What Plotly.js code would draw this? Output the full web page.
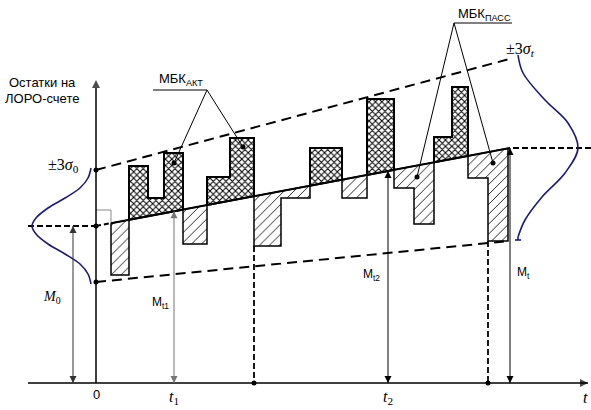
<!DOCTYPE html>
<html><head><meta charset="utf-8">
<script src="https://cdn.plot.ly/plotly-3.0.1.min.js"></script>
<style>html,body{margin:0;padding:0;background:#fff}</style>
</head><body><div id="chart" style="width:591px;height:410px"></div>
<script>
// ---- data (t = time from the balance axis, M = balance on the LORO account) ----
const trendT = [0, 414];          // mean balance line: M0 at t=0, Mt at t=T
const trendM = [157, 235];
const upperT = [0, 417];          // +3 sigma band
const upperM = [213, 325];
const lowerT = [0, 413];          // -3 sigma band
const lowerM = [101, 142];

// active MBK (cross-hatched, above the trend): step edges and step tops per block
const activeEdges  = [[33, 52, 68, 87], [111, 134, 158], [214, 246], [271, 298], [338, 356, 372]];
const activeLevels = [[217, 185, 230], [206, 245], [235], [284], [246, 296]];
// passive MBK (diagonal hatch, below the trend): step edges and step bottoms per block
const passiveEdges  = [[15, 33], [87, 111], [158, 185, 214], [246, 271], [298, 318, 338], [372, 392, 412]];
const passiveLevels = [[108], [139], [137, 185], [185], [195, 159], [205, 142]];
const openBoxEdge = [0, 15];      // small open box at the start
const openBoxTop = 173;

// bell curves
const bell0T = [-5, -8, -16, -31, -48, -60, -64, -60, -48, -31, -16, -8, -5];
const bell0M = [215, 205, 195, 185, 175, 165, 157, 149, 139, 129, 119, 109, 99];
const bellTT = [422, 427, 449, 472, 482, 469, 446, 429, 422];
const bellTM = [328, 310, 283, 260, 235, 210, 186, 163, 146];

// marked moments on the time axis
const tickT = [0, 78, 292, 489];
const tickText = ['0', '<i>t</i><sub>1</sub>', '<i>t</i><sub>2</sub>', '<i>t</i>'];
const mArrowT = [78, 292, 414];
const mArrowText = ['M<sub>t1</sub>', 'M<sub>t2</sub>', 'M<sub>t</sub>'];
const dashedT = [158, 392];
const dashedTop = [137, 142];

// leader dots
const actDotT = [78, 147], actDotM = [220, 236];
const pasDotT = [321, 397], pasDotM = [206, 220];

// ---- helpers ----
function trend(t) {
  return trendM[0] + (trendM[1] - trendM[0]) * (t - trendT[0]) / (trendT[1] - trendT[0]);
}
function blockPoly(edges, levels) {
  const xs = [edges[0]], ys = [trend(edges[0])];
  for (let i = 0; i < levels.length; i++) {
    xs.push(edges[i], edges[i + 1]);
    ys.push(levels[i], levels[i]);
  }
  const last = edges[edges.length - 1];
  xs.push(last, edges[0]);
  ys.push(trend(last), trend(edges[0]));
  return {x: xs, y: ys};
}
const traces = [];
function line(x, y, color, width, dash, extra) {
  traces.push(Object.assign({type: 'scatter', mode: 'lines', x: x, y: y,
    line: {color: color, width: width, dash: dash || 'solid'}, hoverinfo: 'skip'}, extra || {}));
}
// arrow line with arrow-shaped markers whose tips sit on the end points
function arrowLine(x, y, symbols, color, width, msize) {
  traces.push({type: 'scatter', mode: 'lines+markers', x: x, y: y, hoverinfo: 'skip',
    line: {color: color, width: width},
    marker: {symbol: symbols, size: msize, color: color, line: {width: 0}}});
}

// passive blocks
passiveEdges.forEach((e, i) => {
  const p = blockPoly(e, passiveLevels[i]);
  traces.push({type: 'scatter', mode: 'lines', x: p.x, y: p.y, fill: 'toself',
    fillcolor: '#fff',
    fillpattern: {shape: '/', size: 7, solidity: 0.12, fgcolor: '#000', bgcolor: '#fff'},
    line: {color: '#000', width: 1.5}, hoverinfo: 'skip'});
});
// active blocks
activeEdges.forEach((e, i) => {
  const p = blockPoly(e, activeLevels[i]);
  traces.push({type: 'scatter', mode: 'lines', x: p.x, y: p.y, fill: 'toself',
    fillcolor: '#fff',
    fillpattern: {shape: 'x', size: 4.5, solidity: 0.4, fgcolor: '#000', bgcolor: '#fff'},
    line: {color: '#000', width: 2}, hoverinfo: 'skip'});
});
// open box
line([openBoxEdge[0], openBoxEdge[1], openBoxEdge[1]], [openBoxTop, openBoxTop, trend(openBoxEdge[1])], '#888', 1);

// trend line
line([trendT[0], openBoxEdge[1]], [trend(trendT[0]), trend(openBoxEdge[1])], '#000', 2, '5px,3px');
line([openBoxEdge[1], trendT[1]], [trend(openBoxEdge[1]), trendM[1]], '#000', 2);
// band lines
line(upperT, upperM, '#000', 2, '10px,6px');
line(lowerT, lowerM, '#000', 2, '10px,6px');
// horizontal dashed extensions
line([-68, 0], [trendM[0], trendM[0]], '#000', 1.8, '6px,3px');
line([417, 495], [trendM[1], trendM[1]], '#000', 1.8, '6px,3px');
// vertical dashed lines
dashedT.forEach((t, i) => line([t, t], [dashedTop[i], 0], '#000', 1.8, '6px,3px'));

// bells
line(bell0T, bell0M, '#1b1b7a', 1.6, 'solid', {line: {color: '#1b1b7a', width: 1.6, shape: 'spline'}});
line(bellTT, bellTM, '#1b1b7a', 1.6, 'solid', {line: {color: '#1b1b7a', width: 1.6, shape: 'spline'}});
line([419, 425], [143, 143], '#1b1b7a', 1.6);
line([422, 422], [146, 143], '#1b1b7a', 1.6);

// leader lines
line([57, 111], [293, 293], '#000', 1);
line([actDotT[0], 111, actDotT[1]], [actDotM[0], 293, actDotM[1]], '#000', 1);
line([358, 416], [360, 360], '#000', 1);
line([pasDotT[0], 358, pasDotT[1]], [pasDotM[0], 360, pasDotM[1]], '#000', 1);

// axes with arrow heads
arrowLine([-68, 492], [0, 0], ['circle', 'arrow-right'], '#000', 1.5, [0, 8]);
arrowLine([0, 0], [0, 303], ['circle', 'arrow-up'], '#000', 1.5, [0, 8]);
// balance arrows (double headed)
arrowLine([-23, -23], [trendM[0], 0], ['arrow-up', 'arrow-down'], '#333', 1, 7);
mArrowT.forEach((t, i) => arrowLine([t, t], [trend(t), 0], ['arrow-up', 'arrow-down'],
  i === 0 ? '#777' : '#000', 1, 7));

// dots
traces.push({type: 'scatter', mode: 'markers', hoverinfo: 'skip',
  x: [0, 0, 0].concat(dashedT, actDotT, pasDotT),
  y: [upperM[0], trendM[0], lowerM[0], 0, 0].concat(actDotM, pasDotM),
  marker: {color: '#000', size: 5}});

// ---- annotations (texts) ----
const ann = [];
const sans = 'Liberation Sans, Arial, sans-serif';
const serif = 'Liberation Serif, Times New Roman, serif';
function txt(x, y, t, size, family, xa, color) {
  ann.push({x: x, y: y, xref: 'x', yref: 'y', text: t, showarrow: false,
    font: {size: size, family: family, color: color || '#000'}, xanchor: xa || 'center', yanchor: 'middle'});
}
txt(-54, 301, 'Остатки на', 13, sans);
txt(-54, 285, 'ЛОРО-счете', 13, sans);
txt(-44, 86, '<i>M</i><sub>0</sub>', 14, serif);
txt(64, 80, mArrowText[0], 12, sans);
txt(275, 108, mArrowText[1], 12, sans);
txt(427, 110, mArrowText[2], 12, sans);
txt(61, 304, 'МБК<sub>АКТ</sub>', 13, sans, 'left');
txt(360, 369, 'МБК<sub>ПАСС</sub>', 13, sans, 'left');
txt(-50, 218, '±3<i>σ</i><sub>0</sub>', 16, serif, 'left');
txt(408, 334, '±3<i>σ</i><sub><i>t</i></sub>', 16, serif, 'left');
tickT.forEach((t, i) => txt(t, i === 0 ? -11 : -14, tickText[i], i === 0 ? 13 : 16, i === 0 ? sans : serif));

const layout = {
  width: 591, height: 410, autosize: false,
  margin: {l: 0, r: 0, t: 0, b: 0},
  paper_bgcolor: '#fff', plot_bgcolor: '#fff', showlegend: false,
  xaxis: {range: [-96, 495], visible: false, fixedrange: true},
  yaxis: {range: [-27, 383], visible: false, fixedrange: true},
  annotations: ann
};
Plotly.newPlot('chart', traces, layout, {displayModeBar: false, staticPlot: true});
</script></body></html>
